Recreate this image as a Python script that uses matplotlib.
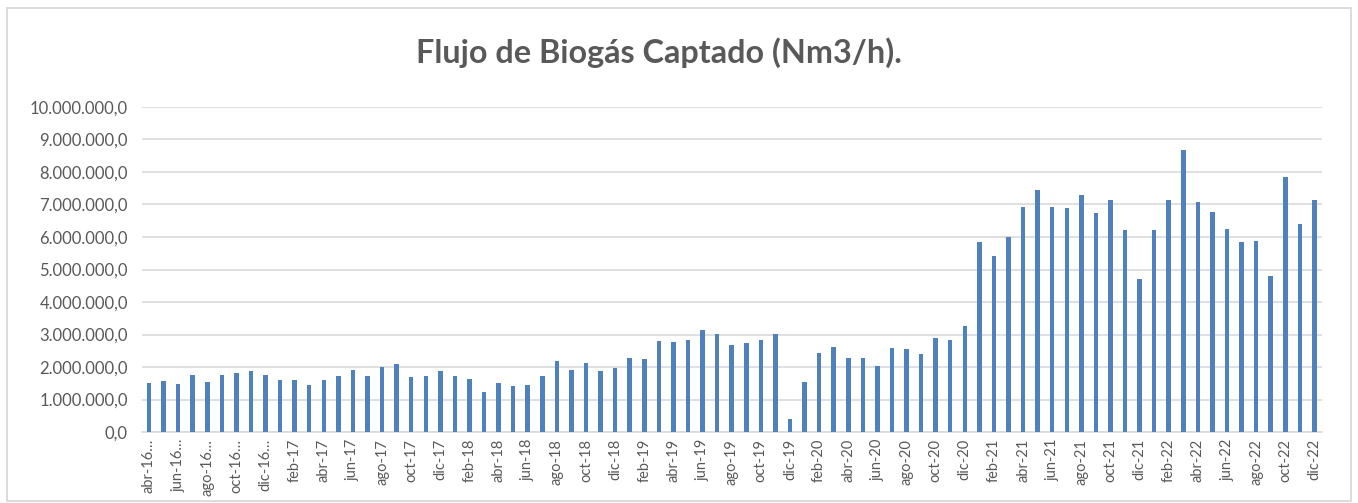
import matplotlib
matplotlib.use("Agg")
import matplotlib.pyplot as plt
from matplotlib.patches import Rectangle
from matplotlib.ticker import FuncFormatter, MultipleLocator

# ---- data (values in Nm3/h) ----
month_abbr = ["ene", "feb", "mar", "abr", "may", "jun",
              "jul", "ago", "sep", "oct", "nov", "dic"]

flow_2016 = [1.515, 1.58, 1.47, 1.76, 1.55, 1.76, 1.82, 1.89, 1.75]  # abr-dic
flow_2017 = [1.60, 1.61, 1.46, 1.60, 1.72, 1.90, 1.72, 2.00, 2.09, 1.69, 1.72, 1.88]
flow_2018 = [1.73, 1.63, 1.24, 1.51, 1.42, 1.44, 1.71, 2.19, 1.90, 2.12, 1.88, 1.98]
flow_2019 = [2.27, 2.25, 2.81, 2.76, 2.82, 3.13, 3.03, 2.67, 2.74, 2.82, 3.01, 0.39]
flow_2020 = [1.54, 2.44, 2.61, 2.29, 2.29, 2.04, 2.58, 2.54, 2.41, 2.90, 2.84, 3.26]
flow_2021 = [5.84, 5.41, 6.00, 6.91, 7.46, 6.91, 6.90, 7.28, 6.74, 7.15, 6.22, 4.71]
flow_2022 = [6.23, 7.13, 8.68, 7.09, 6.77, 6.26, 5.85, 5.87, 4.80, 7.85, 6.41, 7.13]

years = [2016, 2017, 2018, 2019, 2020, 2021, 2022]
series = [flow_2016, flow_2017, flow_2018, flow_2019, flow_2020, flow_2021, flow_2022]

labels = []
values = []
for yr, vals in zip(years, series):
    start = 12 - len(vals)
    for i, v in enumerate(vals):
        lab = f"{month_abbr[start + i]}-{yr % 100:02d}"
        if yr == 2016:
            lab += "\u2026"
        labels.append(lab)
        values.append(v * 1e6)

title = "Flujo de Biogás Captado (Nm3/h)."

# ---- figure ----
plt.rcParams['font.family'] = ['Lato', 'DejaVu Sans']
W, H = 1358, 503
fig = plt.figure(figsize=(W / 100, H / 100), dpi=100)
fig.patch.set_facecolor("white")

# outer chart frame
fig.add_artist(Rectangle((7 / W, 1 - 501 / H), (1351 - 7) / W, (501 - 8) / H,
                         transform=fig.transFigure, fill=False,
                         edgecolor="#d9d9d9", linewidth=1.3))

ax = fig.add_axes([141.7 / W, 1 - 432 / H, (1321.7 - 141.7) / W, (432 - 107) / H])
x = list(range(len(values)))
ax.bar(x, values, width=0.31, color="#4F81BD", zorder=3)

ax.set_xlim(-0.5, len(values) - 0.5)
ax.set_ylim(0, 10e6)
ax.yaxis.set_major_locator(MultipleLocator(1e6))


def fmt(v, pos):
    s = f"{v:,.1f}"
    return s.replace(",", "X").replace(".", ",").replace("X", ".")


ax.yaxis.set_major_formatter(FuncFormatter(fmt))
ax.grid(axis="y", color="#d9d9d9", linewidth=1.2, zorder=0)
ax.set_axisbelow(True)
for s in ["top", "right", "left"]:
    ax.spines[s].set_visible(False)
ax.spines["bottom"].set_color("#d9d9d9")
ax.spines["bottom"].set_linewidth(1.2)

ax.set_xticks(x[::2])
ax.set_xticklabels(labels[::2], rotation=90, fontsize=10.5, color="#595959")
ax.tick_params(axis="x", length=0, pad=5)
ax.tick_params(axis="y", length=0, pad=10, labelsize=12, labelcolor="#595959")

fig.text(659 / W, 1 - 53 / H, title, ha="center", va="center",
         fontsize=23.3, fontweight="bold", color="#595959")

fig.savefig("out.png", dpi=100, facecolor="white")
